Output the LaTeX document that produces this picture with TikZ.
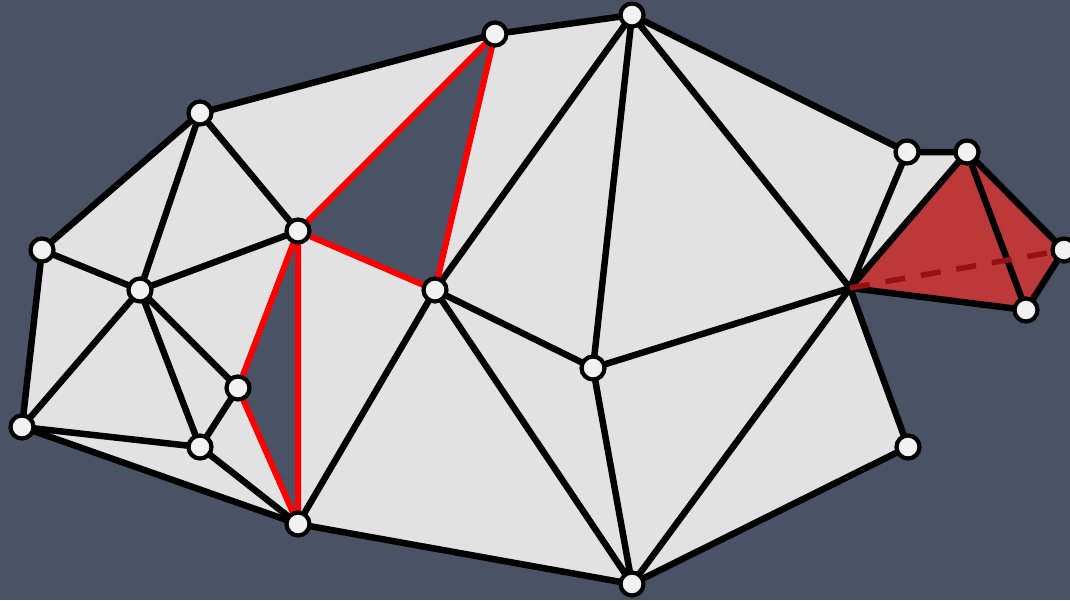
\documentclass[tikz,border=0pt]{standalone}
\begin{document}
\definecolor{bgc}{RGB}{74,83,102}
\definecolor{meshgrey}{RGB}{226,226,226}
\definecolor{tetfill}{RGB}{189,56,56}
\definecolor{dashred}{RGB}{150,18,18}
\definecolor{vfill}{RGB}{242,242,242}
\begin{tikzpicture}[x=1pt,y=-1pt,
  vtx/.style={circle,draw=black,fill=vfill,line width=4.2pt,minimum size=23pt,inner sep=0pt},
  edge/.style={line width=6.5pt,black,line cap=round,line join=round},
  redge/.style={line width=6pt,red,line cap=round,line join=round},
  hidden/.style={line width=5.5pt,dashred,dash pattern=on 20pt off 16pt}]
\fill[bgc] (0,0) rectangle (1070,600);
\useasboundingbox (0,0) rectangle (1070,600);
% vertices
\coordinate (A) at (200,113);
\coordinate (B) at (42,250);
\coordinate (C) at (140,290);
\coordinate (D) at (22,427);
\coordinate (E) at (200,447);
\coordinate (F) at (238,388);
\coordinate (G) at (298,231);
\coordinate (H) at (298,524);
\coordinate (I) at (495,34);
\coordinate (J) at (632,15);
\coordinate (K) at (435,290);
\coordinate (L) at (593,368);
\coordinate (M) at (632,584);
\coordinate (N) at (850,288);
\coordinate (O) at (907,152);
\coordinate (P) at (967,152);
\coordinate (Q) at (1064,250);
\coordinate (R) at (1026,310);
\coordinate (S) at (908,447);
% faces
\fill[meshgrey,even odd rule] (D)--(B)--(A)--(I)--(J)--(O)--(P)--(N)--(S)--(M)--(H)--cycle
  (G)--(I)--(K)--cycle (F)--(G)--(H)--cycle;
\fill[tetfill] (N)--(P)--(Q)--(R)--cycle;
% black edges
\draw[edge] (D)--(B)--(A)--(I)--(J)--(O)--(P)--(Q)--(R)--(N)--(S)--(M)--(H)--(D);
\draw[edge] (A)--(C) (A)--(G) (B)--(C) (C)--(D) (C)--(G) (C)--(E) (C)--(F)
  (D)--(E) (E)--(F) (E)--(H);
\draw[edge] (J)--(K) (J)--(L) (J)--(N) (K)--(L) (K)--(H) (K)--(M)
  (L)--(M) (L)--(N) (M)--(N) (N)--(O) (N)--(P) (P)--(R);
% hidden edge
\draw[hidden] (N)--(Q);
% red edges
\draw[redge] (F)--(G) (F)--(H) (G)--(H) (G)--(I) (G)--(K) (I)--(K);
% vertex markers
\foreach \v in {A,B,C,D,E,F,G,H,I,J,K,L,M,O,P,Q,R,S}
  \node[vtx] (v\v) at (\v) {};
\end{tikzpicture}
\end{document}
